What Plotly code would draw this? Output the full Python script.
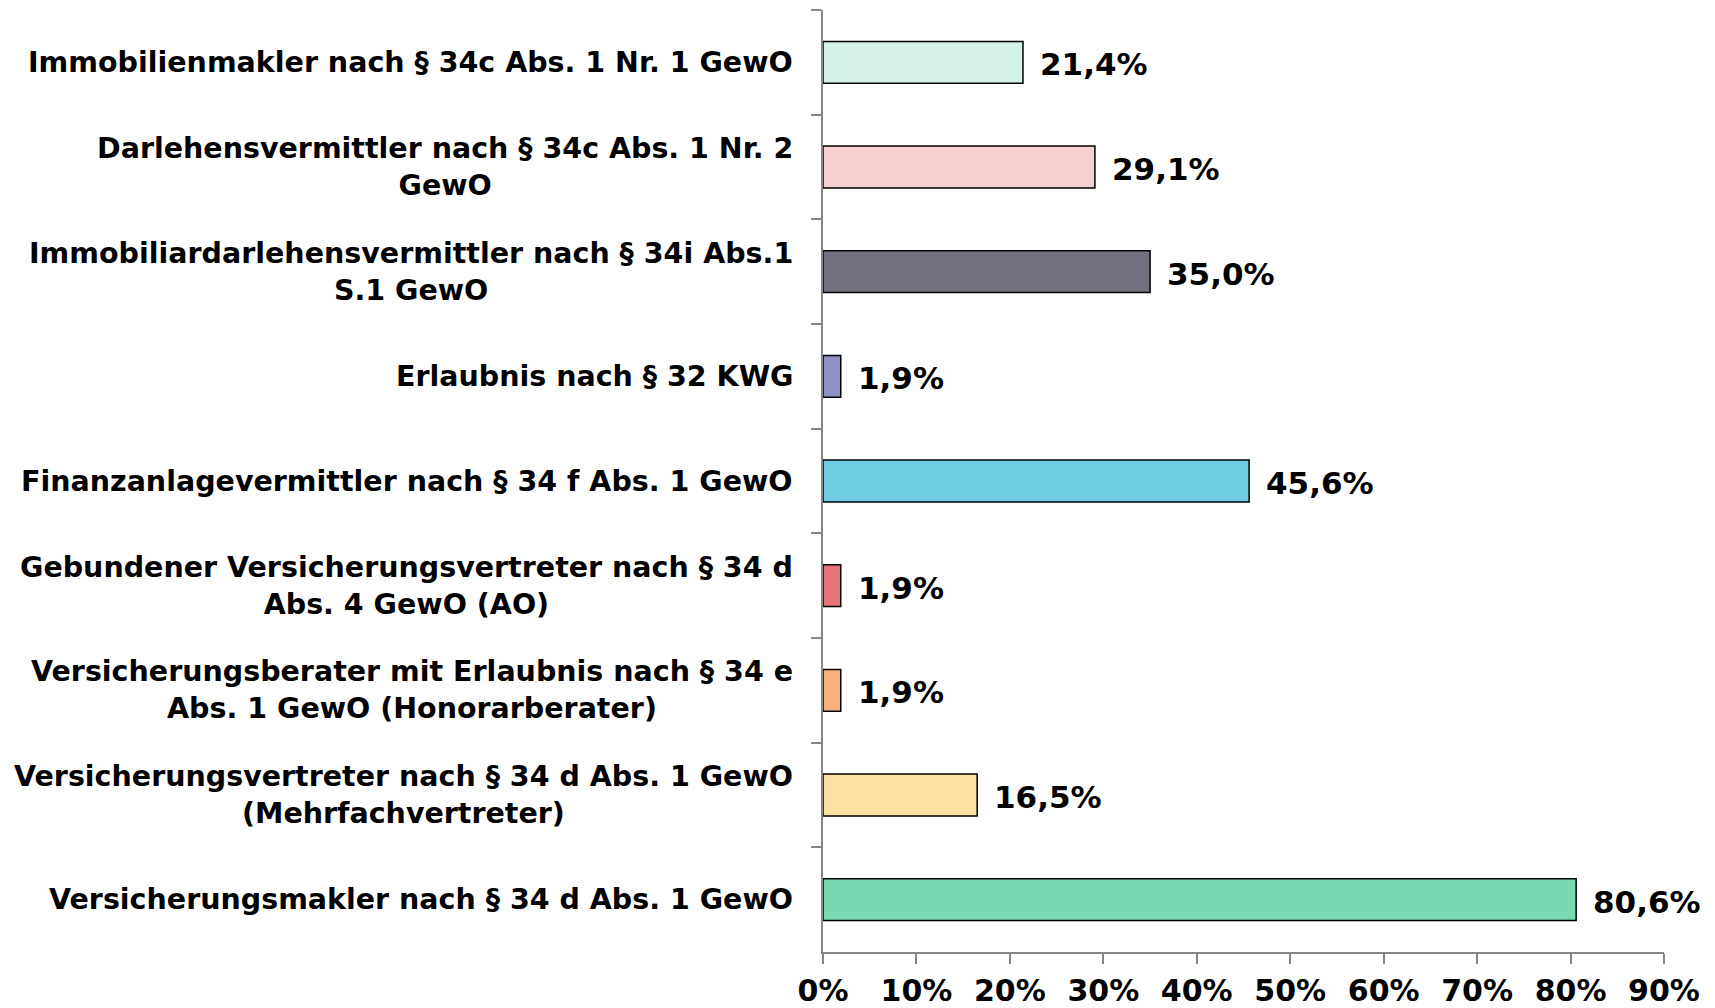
import plotly.graph_objects as go

categories = [
    "Immobilienmakler nach § 34c Abs. 1 Nr. 1 GewO",
    "Darlehensvermittler nach § 34c Abs. 1 Nr. 2<br>GewO",
    "Immobiliardarlehensvermittler nach § 34i Abs.1<br>S.1 GewO",
    "Erlaubnis nach § 32 KWG",
    "Finanzanlagevermittler nach § 34 f Abs. 1 GewO",
    "Gebundener Versicherungsvertreter nach § 34 d<br>Abs. 4 GewO (AO)",
    "Versicherungsberater mit Erlaubnis nach § 34 e<br>Abs. 1 GewO (Honorarberater)",
    "Versicherungsvertreter nach § 34 d Abs. 1 GewO<br>(Mehrfachvertreter)",
    "Versicherungsmakler nach § 34 d Abs. 1 GewO",
]
values = [21.4, 29.1, 35.0, 1.9, 45.6, 1.9, 1.9, 16.5, 80.6]
value_labels = ["21,4%", "29,1%", "35,0%", "1,9%", "45,6%", "1,9%", "1,9%", "16,5%", "80,6%"]
bar_colors = ["#D4F2E6", "#F6D0D1", "#72717F", "#9092C4", "#6ECDE0",
              "#E8737A", "#F5B07C", "#FDE0A0", "#79D9B2"]
x_ticks = [0, 10, 20, 30, 40, 50, 60, 70, 80, 90]
x_tick_labels = ["0%", "10%", "20%", "30%", "40%", "50%", "60%", "70%", "80%", "90%"]

FONT = "DejaVu Sans"

fig = go.Figure()
fig.add_trace(go.Bar(
    y=categories, x=values, orientation="h",
    marker=dict(color=bar_colors, line=dict(color="#000000", width=1.5)),
    width=0.4, showlegend=False, hoverinfo="x+y",
))

annotations = []
for cat, v, lab in zip(categories, values, value_labels):
    annotations.append(dict(
        x=v, y=cat, xref="x", yref="y", text=lab, showarrow=False,
        xanchor="left", xshift=15, yshift=-2,
        font=dict(family=FONT, size=31, color="#000000", weight="bold"),
    ))
    annotations.append(dict(
        x=0, y=cat, xref="paper", yref="y", text=cat, showarrow=False,
        xanchor="right", xshift=-28, align="center",
        font=dict(family=FONT, size=28.5, color="#000000", weight="bold"),
    ))

# page body has an 8px default margin; figure sized/offset to compensate
fig.update_layout(
    width=1707, height=1000,
    margin=dict(l=815, r=51, t=2, b=56),
    paper_bgcolor="white", plot_bgcolor="white",
    annotations=annotations,
    xaxis=dict(
        range=[0, 90], tickvals=x_ticks, ticktext=x_tick_labels,
        showgrid=False, zeroline=False, automargin=False,
        showline=True, linecolor="#868686", linewidth=2,
        ticks="outside", ticklen=10, tickcolor="#868686", tickwidth=2,
        ticklabelstandoff=1,
        tickfont=dict(family=FONT, size=30, color="#000000", weight="bold"),
    ),
    yaxis=dict(
        autorange="reversed", showgrid=False, zeroline=False, automargin=False,
        showline=True, linecolor="#868686", linewidth=2,
        ticks="outside", ticklen=10, tickcolor="#868686", tickwidth=2,
        tickson="boundaries", showticklabels=False,
    ),
)

fig.write_html("out.html")
